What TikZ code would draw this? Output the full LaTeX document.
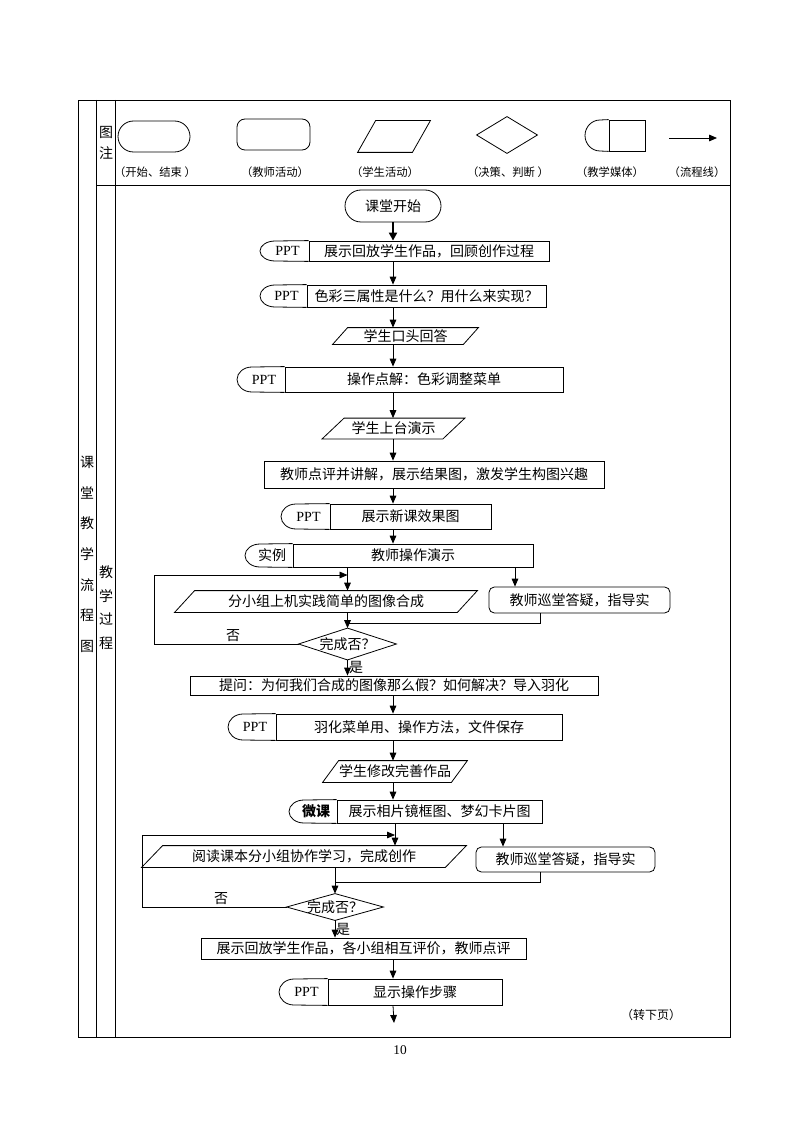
\documentclass[tikz,border=0pt]{standalone}
\usepackage{fontspec}
\setmainfont{Noto Sans CJK SC}
\newfontfamily\latinserif{Liberation Serif}
\usetikzlibrary{arrows.meta,shapes.misc,calc}

% pixel lengths (the page is 794 x 1123 px)
\newcommand{\pxl}[1]{#1*0.75pt}

\tikzset{
  flowline/.style={-{Triangle[length=6pt,width=5pt]}},
  startline/.style={-{Triangle[length=6pt,width=6pt]}, line width=2pt},
  teacher/.style={draw, rectangle, inner sep=0pt},
  tutor/.style={draw, rectangle, rounded corners=4pt, inner sep=0pt},
  terminal/.style={draw, rounded rectangle, inner sep=0pt},
  mediatext/.style={draw, rectangle, inner sep=0pt},
  mediatag/.style={inner sep=0pt, font=\latinserif\fontsize{10.5}{12}\selectfont},
  paratext/.style={inner sep=0pt},
  plaintext/.style={inner sep=0pt},
  legendcap/.style={inner sep=0pt, font=\fontsize{8.5}{10}\selectfont},
}

% media box: name, tag, left, divider, right, top, bottom, text
\newcommand{\mediabox}[8]{%
  \node[mediatext, minimum width={(#5-#4)*0.75pt}, minimum height={(#7-#6)*0.75pt}] (#1) at ({(#4+#5)/2},{(#6+#7)/2}) {#8};
  \node[mediatag] (#1tag) at ({(#3+#4)/2+3},{(#6+#7)/2}) {#2};
  \draw (#1.north west) -- ({#3+15},#6) arc[start angle=90, end angle=270, x radius=11.25pt, y radius={(#7-#6)*0.375pt}] -- (#1.south west);
}
% student box: name, centre, width, height, slant, text
\newcommand{\stuact}[6]{%
  \node[paratext, minimum width={#3*0.75pt}, minimum height={#4*0.75pt}] (#1) at (#2) {#6};
  \draw ($(#1.south west)+({-#5/2},0)$) -- ($(#1.north west)+({#5/2},0)$) -- ($(#1.north east)+({#5/2},0)$) -- ($(#1.south east)+({-#5/2},0)$) -- cycle;
}
% decision: name, centre, width, height, text
\newcommand{\decision}[5]{%
  \node[paratext, minimum width={#3*0.75pt}, minimum height={#4*0.75pt}] (#1) at (#2) {#5};
  \draw (#1.north) -- (#1.east) -- (#1.south) -- (#1.west) -- cycle;
}

\begin{document}
\begin{tikzpicture}[x=0.75pt, y=-0.75pt, line width=0.6pt, every node/.style={font=\fontsize{10.5}{12.6}\selectfont}]
  \useasboundingbox (0,0) rectangle (794,1123);

  % table
  \draw (78,100) rectangle (730,1037);
  \draw (96,100) -- (96,1037);
  \draw (115,100) -- (115,1037);
  \draw (96,185) -- (730,185);
  \foreach \ch [count=\i] in {课,堂,教,学,流,程,图}
    \node[plaintext] (side\i) at (87,{462+30.7*(\i-1)}) {\ch};
  \foreach \ch [count=\i] in {教,学,过,程}
    \node[plaintext] (step\i) at (106,{572+23.7*(\i-1)}) {\ch};

  % legend
  \node[plaintext, align=center] (legendtitle) at (106,143) {图\\[3pt]注};
  \node[terminal, minimum width=\pxl{72}, minimum height=\pxl{31}] (lgstart) at (154,136.5) {};
  \node[tutor, rounded corners=6pt, minimum width=\pxl{73}, minimum height=\pxl{31}] (lgteacher) at (273.5,134.5) {};
  \stuact{lgstudent}{394,136.5}{54}{31}{18}{}
  \decision{lgdecision}{507,135}{60}{36}{}
  \mediabox{lgmedia}{}{585}{609}{645}{120}{151}{}
  \coordinate (lgflowa) at (669,138);
  \coordinate (lgflowb) at (717,138);
  \draw[flowline] (lgflowa) -- (lgflowb);
  \node[legendcap] (cap1) at (155,172) {（开始、结束 ）};
  \node[legendcap] (cap2) at (275,172) {（教师活动）};
  \node[legendcap] (cap3) at (385,172) {（学生活动）};
  \node[legendcap] (cap4) at (508,172) {（决策、判断 ）};
  \node[legendcap] (cap5) at (610,172) {（教学媒体）};
  \node[legendcap] (cap6) at (697,172) {（流程线）};

  % flow, part one
  \node[terminal, minimum width=\pxl{96}, minimum height=\pxl{32}] (start) at (393,206) {课堂开始};
  \mediabox{ppt1}{PPT}{260}{309}{549}{241}{261}{展示回放学生作品，回顾创作过程}
  \mediabox{ppt2}{PPT}{260}{307}{546}{285}{307}{色彩三属性是什么？用什么来实现？}
  \stuact{answer}{405.5,336}{130}{16}{15}{学生口头回答}
  \mediabox{ppt3}{PPT}{237}{285}{563}{367}{392}{操作点解：色彩调整菜单}
  \stuact{showcase}{393.5,428.5}{120}{20}{22}{学生上台演示}
  \node[teacher, minimum width=\pxl{340}, minimum height=\pxl{27}] (comment) at (434,474.5) {教师点评并讲解，展示结果图，激发学生构图兴趣};
  \mediabox{ppt4}{PPT}{281}{330}{491}{504}{529}{展示新课效果图}
  \mediabox{example}{\rmfamily 实例}{245}{293}{533}{544}{567}{教师操作演示}
  \stuact{practice1}{326,601.5}{282}{21}{20}{分小组上机实践简单的图像合成}
  \node[tutor, minimum width=\pxl{181}, minimum height=\pxl{26}] (guide1) at (579.5,600) {教师巡堂答疑，指导实};
  \decision{check1}{347.5,644}{97}{31}{完成否？}
  \node[teacher, minimum width=\pxl{408}, minimum height=\pxl{19}] (question) at (394,685.5) {提问：为何我们合成的图像那么假？如何解决？导入羽化};

  % flow, part two
  \mediabox{ppt5}{PPT}{228}{276}{562}{714}{740}{羽化菜单用、操作方法，文件保存}
  \stuact{revise}{395,771.5}{128}{21}{16}{学生修改完善作品}
  \mediabox{micro}{\rmfamily\bfseries 微课}{289}{337}{542}{800}{823}{展示相片镜框图、梦幻卡片图}
  \stuact{practice2}{304,856.5}{303}{21}{21}{阅读课本分小组协作学习，完成创作}
  \node[tutor, minimum width=\pxl{179}, minimum height=\pxl{25}] (guide2) at (565.5,859.5) {教师巡堂答疑，指导实};
  \decision{check2}{335,907}{96}{26}{完成否？}
  \node[teacher, minimum width=\pxl{325}, minimum height=\pxl{21}] (review) at (363.5,948.5) {展示回放学生作品，各小组相互评价，教师点评};
  \mediabox{ppt6}{PPT}{279}{328}{502}{979}{1005}{显示操作步骤}
  \coordinate (nextpage) at (394,1023);
  \node[plaintext, font=\fontsize{9}{11}\selectfont] (turnover) at (651,1015) {（转下页）};
  \node[plaintext, font=\latinserif\fontsize{10}{12}\selectfont] (pagenum) at (400,1050) {10};

  % connectors, part one
  \draw[startline] (start.south) -- (start.south |- ppt1.north);
  \draw[flowline] (ppt1.south -| start) -- (ppt2.north -| start);
  \draw[flowline] (ppt2.south -| start) -- (answer.north -| start);
  \draw[flowline] (answer.south -| start) -- (ppt3.north -| start);
  \draw[flowline] (ppt3.south -| start) -- (showcase.north -| start);
  \draw[flowline] (showcase.south -| start) -- (comment.north -| start);
  \draw[flowline] (comment.south -| start) -- (ppt4.north -| start);
  \draw[flowline] (ppt4.south -| start) -- (example.north -| start);
  \draw[flowline] (example.south -| check1) -- (practice1.north -| check1);
  \coordinate (fork1) at (515,567);
  \draw[flowline] (fork1) -- (fork1 |- guide1.north);
  \draw[flowline] (practice1.south -| check1) -- (check1.north);
  \coordinate (join1) at (540,623);
  \draw (join1 |- guide1.south) -- (join1) -- (join1 -| check1);
  \coordinate (loop1) at (154,575);
  \draw[flowline] (check1.west) -- (check1.west -| loop1) -- (loop1) -- (loop1 -| check1);
  \node[plaintext] (no1) at (233,636) {否};
  \draw[flowline] (check1.south) -- (check1.south |- question.north);
  \node[plaintext] (yes1) at (356,667) {是};

  % connectors, part two
  \draw[flowline] (question.south -| start) -- (ppt5.north -| start);
  \draw[flowline] (ppt5.south -| start) -- (revise.north -| start);
  \draw[flowline] (revise.south -| start) -- (micro.north -| start);
  \draw[flowline] (micro.south -| revise) -- (practice2.north -| revise);
  \coordinate (fork2) at (503,823);
  \draw[flowline] (fork2) -- (fork2 |- guide2.north);
  \draw[flowline] (practice2.south -| check2) -- (check2.north);
  \coordinate (join2) at (540,882);
  \draw (join2 |- guide2.south) -- (join2) -- (join2 -| check2);
  \coordinate (loop2) at (142,835);
  \draw[flowline] (check2.west) -- (check2.west -| loop2) -- (loop2) -- (loop2 -| revise);
  \node[plaintext] (no2) at (221,899) {否};
  \draw[flowline] (check2.south) -- (check2.south |- review.north);
  \node[plaintext] (yes2) at (343,929) {是};
  \draw[flowline] (review.south -| start) -- (ppt6.north -| start);
  \draw[flowline] (ppt6.south -| start) -- (nextpage);
\end{tikzpicture}
\end{document}
